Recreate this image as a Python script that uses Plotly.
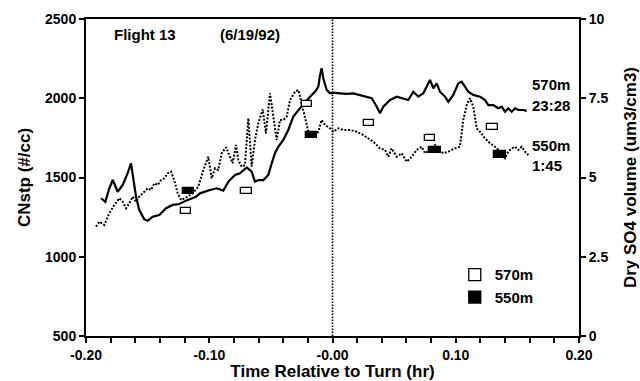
import plotly.graph_objects as go

# --- CN concentration at 570 m (solid) ---
t_570 = [-0.1878, -0.1843, -0.1811, -0.1783, -0.1743, -0.1702, -0.1662, -0.1635, -0.1594,
         -0.1568, -0.1527, -0.1499, -0.1459, -0.1405, -0.1351, -0.1297, -0.1243, -0.1189,
         -0.1108, -0.1075, -0.0994, -0.0940, -0.0886, -0.0845, -0.0791, -0.0751, -0.0696,
         -0.0656, -0.0629, -0.0602, -0.0561, -0.0521, -0.0493, -0.0467, -0.0440, -0.0399,
         -0.0359, -0.0318, -0.0264, -0.0209, -0.0169, -0.0142, -0.0115, -0.0101, -0.0088,
         -0.0075, -0.0047, -0.0020, 0.0006, 0.0061, 0.0115, 0.0169, 0.0223, 0.0277, 0.0318,
         0.0359, 0.0385, 0.0412, 0.0467, 0.0521, 0.0574, 0.0615, 0.0656, 0.0696, 0.0737,
         0.0764, 0.0791, 0.0818, 0.0845, 0.0872, 0.0913, 0.0940, 0.0980, 0.1021, 0.1048,
         0.1075, 0.1102, 0.1142, 0.1197, 0.1237, 0.1264, 0.1305, 0.1345, 0.1373, 0.1400,
         0.1426, 0.1454, 0.1481, 0.1508, 0.1548, 0.1576]
cn_570 = [1369, 1347, 1432, 1484, 1410, 1453, 1528, 1590, 1379,
          1295, 1236, 1227, 1253, 1263, 1306, 1327, 1333, 1354,
          1379, 1400, 1421, 1432, 1417, 1474, 1516, 1527, 1564,
          1537, 1474, 1484, 1484, 1516, 1590, 1653, 1694, 1737,
          1800, 1884, 1937, 1989, 2021, 2041, 2073, 2147, 2189,
          2126, 2052, 2031, 2035, 2031, 2027, 2031, 2021, 2010, 2000,
          1947, 1905, 1947, 1989, 2010, 2000, 1989, 2041, 2010, 2031,
          2073, 2115, 2063, 2094, 2041, 2010, 1978, 2021, 2094, 2104,
          2073, 2041, 2021, 2010, 1989, 1957, 1957, 1937, 1947, 1915,
          1937, 1915, 1937, 1926, 1926, 1920]

# --- CN concentration at 550 m (dotted) ---
t_550 = [-0.1919, -0.1892, -0.1852, -0.1811, -0.1770, -0.1730, -0.1702, -0.1675, -0.1649,
         -0.1621, -0.1594, -0.1568, -0.1527, -0.1499, -0.1473, -0.1446, -0.1418, -0.1391,
         -0.1365, -0.1337, -0.1310, -0.1284, -0.1256, -0.1229, -0.1202, -0.1175, -0.1132,
         -0.1089, -0.1048, -0.1008, -0.0980, -0.0953, -0.0927, -0.0899, -0.0864, -0.0832,
         -0.0810, -0.0783, -0.0764, -0.0737, -0.0710, -0.0683, -0.0669, -0.0656, -0.0629,
         -0.0602, -0.0566, -0.0540, -0.0507, -0.0480, -0.0453, -0.0426, -0.0399, -0.0372,
         -0.0345, -0.0304, -0.0277, -0.0250, -0.0223, -0.0196, -0.0156, -0.0115, -0.0088,
         -0.0061, -0.0020, 0.0006, 0.0047, 0.0088, 0.0142, 0.0196, 0.0250, 0.0290, 0.0331,
         0.0385, 0.0426, 0.0453, 0.0480, 0.0521, 0.0561, 0.0602, 0.0643, 0.0683, 0.0724,
         0.0751, 0.0791, 0.0832, 0.0858, 0.0899, 0.0940, 0.0994, 0.1034, 0.1061, 0.1089,
         0.1116, 0.1142, 0.1170, 0.1197, 0.1237, 0.1278, 0.1318, 0.1345, 0.1373, 0.1400,
         0.1426, 0.1454, 0.1481, 0.1508, 0.1535, 0.1562, 0.1589]
cn_550 = [1190, 1221, 1200, 1274, 1327, 1369, 1347, 1306, 1337,
          1379, 1347, 1379, 1410, 1432, 1421, 1463, 1453, 1484,
          1495, 1527, 1537, 1484, 1400, 1358, 1369, 1379, 1402,
          1442, 1547, 1631, 1495, 1558, 1547, 1653, 1691, 1631,
          1590, 1705, 1610, 1568, 1579, 1874, 1674, 1568, 1737,
          1842, 1930, 1779, 2031, 1884, 1737, 1863, 1863, 1884,
          1989, 2041, 2052, 1968, 1884, 1789, 1757, 1789, 1863,
          1831, 1810, 1789, 1810, 1800, 1800, 1789, 1768, 1747, 1726,
          1684, 1674, 1631, 1684, 1631, 1653, 1600, 1631, 1674, 1694,
          1653, 1674, 1705, 1674, 1653, 1663, 1684, 1694, 1863, 1957,
          2000, 1947, 1810, 1789, 1747, 1716, 1694, 1674, 1642, 1621,
          1663, 1684, 1694, 1674, 1694, 1663, 1642]

# --- Dry SO4 volume samples (um3/cm3) ---
t_so4_570 = [-0.119, -0.0696, -0.0209, 0.0296, 0.0791, 0.130]
v_so4_570 = [3.95, 4.58, 7.32, 6.73, 6.26, 6.60]
t_so4_550 = [-0.117, -0.0169, 0.083, 0.136]
v_so4_550 = [4.58, 6.34, 5.87, 5.73]

# x ticks every 0.02 hr, labelled every 0.10 hr
x_ticks = [-0.20, -0.18, -0.16, -0.14, -0.12, -0.10, -0.08, -0.06, -0.04, -0.02, 0.00,
           0.02, 0.04, 0.06, 0.08, 0.10, 0.12, 0.14, 0.16, 0.18, 0.20]
x_tick_text = ["-0.20", "", "", "", "", "-0.10", "", "", "", "", "-0.00",
               "", "", "", "", "0.10", "", "", "", "", "0.20"]
y2_ticks = [0, 2.5, 5, 7.5, 10]
y2_tick_text = ["0", "2.5", "5", "7.5", "10"]

FONT = "Liberation Sans, Arial, Helvetica, sans-serif"
BOX_W = 0.0085   # sample box width (hr)
BOX_H = 0.19     # sample box height (um3/cm3)

fig = go.Figure()

fig.add_trace(go.Scatter(x=t_570, y=cn_570, mode="lines", showlegend=False,
                         line=dict(color="black", width=2.2)))
fig.add_trace(go.Scatter(x=t_550, y=cn_550, mode="lines", showlegend=False,
                         line=dict(color="black", width=2, dash="2px,1.6px")))

fig.add_trace(go.Bar(x=t_so4_570, y=[BOX_H] * len(t_so4_570),
                     base=[v - BOX_H / 2 for v in v_so4_570],
                     width=BOX_W, yaxis="y2", name="570m",
                     marker=dict(color="white", line=dict(color="black", width=1.3))))
fig.add_trace(go.Bar(x=t_so4_550, y=[BOX_H * 1.1] * len(t_so4_550),
                     base=[v - BOX_H * 0.55 for v in v_so4_550],
                     width=BOX_W * 1.1, yaxis="y2", name="550m",
                     marker=dict(color="black", line=dict(color="black", width=1.3))))

fig.add_vline(x=0, line=dict(color="black", width=1.6, dash="1.5px,1.5px"))

tick_font = dict(family=FONT, size=14, color="black", weight="bold")
title_font = dict(family=FONT, size=17, color="black", weight="bold")

fig.update_layout(
    width=640, height=381,
    margin=dict(l=86, r=61, t=19, b=45),
    paper_bgcolor="white", plot_bgcolor="white",
    barmode="overlay", bargap=0,
    font=dict(family=FONT, color="black"),
    xaxis=dict(range=[-0.2, 0.2], tickvals=x_ticks, ticktext=x_tick_text,
               ticks="outside", ticklen=5, tickwidth=1.6, tickcolor="black",
               showline=True, linewidth=2, linecolor="black", mirror=True,
               showgrid=False, zeroline=False, tickfont=tick_font, automargin=False,
               title=dict(text="Time Relative to Turn (hr)", font=title_font, standoff=11)),
    yaxis=dict(range=[500, 2500], dtick=500, ticks="outside", ticklen=5,
               tickwidth=1.6, tickcolor="black", showline=True, linewidth=2,
               linecolor="black", showgrid=False, zeroline=False, tickfont=tick_font,
               automargin=False,
               title=dict(text="CNstp (#/cc)", font=title_font, standoff=10)),
    yaxis2=dict(range=[0, 10], tickvals=y2_ticks, ticktext=y2_tick_text,
                overlaying="y", side="right", ticks="outside", ticklen=5,
                tickwidth=1.6, tickcolor="black", showline=True, linewidth=2,
                linecolor="black", showgrid=False, zeroline=False, tickfont=tick_font,
                automargin=False,
                title=dict(text="Dry SO4 volume (um3/cm3)", font=title_font, standoff=18)),
    legend=dict(x=0.748, y=0.245, xanchor="left", yanchor="top",
                bgcolor="rgba(0,0,0,0)", font=dict(family=FONT, size=15, weight="bold"),
                tracegroupgap=0, itemwidth=30),
)

label_font = dict(family=FONT, size=15, color="black", weight="bold")
labels = [("Flight 13", 0.053, 0.95), ("(6/19/92)", 0.267, 0.95)]
for text, xp, yp in labels:
    fig.add_annotation(text=text, x=xp, y=yp, xref="paper", yref="paper",
                       xanchor="left", yanchor="middle", showarrow=False, font=label_font)

end_labels = [("570m", 2085), ("23:28", 1952), ("550m", 1705), ("1:45", 1575)]
for text, yv in end_labels:
    fig.add_annotation(text=text, x=0.1605, y=yv, xref="x", yref="y",
                       xanchor="left", yanchor="middle", showarrow=False, font=label_font)

fig.write_html("out.html")
